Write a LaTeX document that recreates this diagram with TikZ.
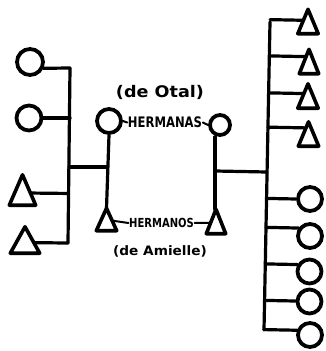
\documentclass[tikz,border=0pt]{standalone}
\usepackage{fontspec}
\setmainfont{DejaVu Sans}
\usetikzlibrary{calc}
\begin{document}
\begin{tikzpicture}[x=1pt,y=-1pt,
  ln/.style={line width=3.2pt,line cap=round,line join=round},
  per/.style={circle,draw,line width=3.8pt,inner sep=0pt,minimum size=#1},
  tribox/.style={draw=none,inner sep=0pt,minimum width=#1},
  lbl/.style={inner sep=0.5pt,font=\bfseries}]
\useasboundingbox (0,0) rectangle (326,351);
% left family
\node[per=26pt] (lc1) at (30,62) {};
\node[per=25pt] (lc2) at (29,118) {};
\node[tribox=26pt,minimum height=30pt] (lt1) at (22.5,190) {};
\node[tribox=29pt,minimum height=26pt] (lt2) at (25,240) {};
\coordinate (lTop) at (70,68);
\coordinate (lBot) at (68,243);
\coordinate (lJoin) at (69,167);
% middle
\node[per=24pt] (mc1) at (109,121) {};
\node[tribox=20pt,minimum height=22pt] (mt1) at (106.5,219.5) {};
\node[per=20pt] (mc2) at (220,125) {};
\node[tribox=19pt,minimum height=24pt] (mt2) at (216,221.5) {};
\coordinate (mJoinL) at (107,167);
\coordinate (mJoinR) at (215,171);
% right family
\coordinate (rTop) at (270,22);
\coordinate (rBot) at (264,330);
\node[tribox=20pt,minimum height=24pt] (rt1) at (308,21.5) {};
\node[tribox=19pt,minimum height=24pt] (rt2) at (309,61.5) {};
\node[tribox=20pt,minimum height=24pt] (rt3) at (308,96) {};
\node[tribox=20pt,minimum height=24pt] (rt4) at (308.5,134) {};
\node[per=24pt] (rc1) at (310,199) {};
\node[per=24pt] (rc2) at (310,236) {};
\node[per=24pt] (rc3) at (309.5,271.5) {};
\node[per=24pt] (rc4) at (309.5,301.5) {};
\node[per=24pt] (rc5) at (310,335) {};
% labels
\node[lbl] (otal) at (160,92) {\scalebox{1.1}[1]{\fontsize{16}{16}\selectfont (de Otal)}};
\node[lbl] (hermanas) at (165,122.5) {\scalebox{0.8}[1]{\fontsize{14.5}{14.5}\selectfont HERMANAS}};
\node[lbl] (hermanos) at (161.5,223) {\scalebox{0.8}[1]{\fontsize{12.5}{12.5}\selectfont HERMANOS}};
\node[lbl] (amielle) at (160,251) {\scalebox{1.05}[1]{\fontsize{13}{13}\selectfont (de Amielle)}};
% triangles
\foreach \n in {lt1,lt2,mt1,mt2,rt1,rt2,rt3,rt4}
  \draw[ln,line width=3.6pt] (\n.north) -- (\n.south east) -- (\n.south west) -- cycle;
% left family connectors
\draw[ln] (lTop) -- (lBot);
\draw[ln] (lc1.-25) -- (lTop);
\draw[ln] (lc2.east) -- (lc2.east -| lTop);
\draw[ln] ($(lt1.north)!0.6!(lt1.south east)$) -- ($(lTop)!($(lt1.north)!0.6!(lt1.south east)$)!(lBot)$);
\draw[ln] ($(lt2.north)!0.6!(lt2.south east)$) -- ($(lTop)!($(lt2.north)!0.6!(lt2.south east)$)!(lBot)$);
\draw[ln] (lJoin) -- (mJoinL);
% sibling pairs
\draw[ln] (mc1.south) -- (mt1.north);
\draw[ln] (mc2.south -| mJoinR) -- (mt2.north -| mJoinR);
\draw[ln] (mJoinR) -- ($(rTop)!(mJoinR)!(rBot)$);
\draw[ln,line width=2pt] (mc1.east) -- (hermanas.west);
\draw[ln,line width=2pt] (hermanas.east) -- (mc2.west);
\draw[ln,line width=2pt] ($(mt1.north)!0.55!(mt1.south east)$) -- (hermanos.west);
\draw[ln,line width=2pt] (hermanos.east) -- ($(mt2.north)!0.55!(mt2.south west)$);
% right family connectors
\draw[ln] (rTop) -- (rBot);
\foreach \n/\f in {rt1/0.45,rt2/0.3,rt3/0.4,rt4/0.25}
  \draw[ln] ($(\n.north)!\f!(\n.south west)$) -- ($(rTop)!($(\n.north)!\f!(\n.south west)$)!(rBot)$);
\foreach \n/\a in {rc1/180,rc2/145,rc3/150,rc4/178,rc5/160}
  \draw[ln] (\n.\a) -- ($(rTop)!(\n.\a)!(rBot)$);
\end{tikzpicture}
\end{document}
